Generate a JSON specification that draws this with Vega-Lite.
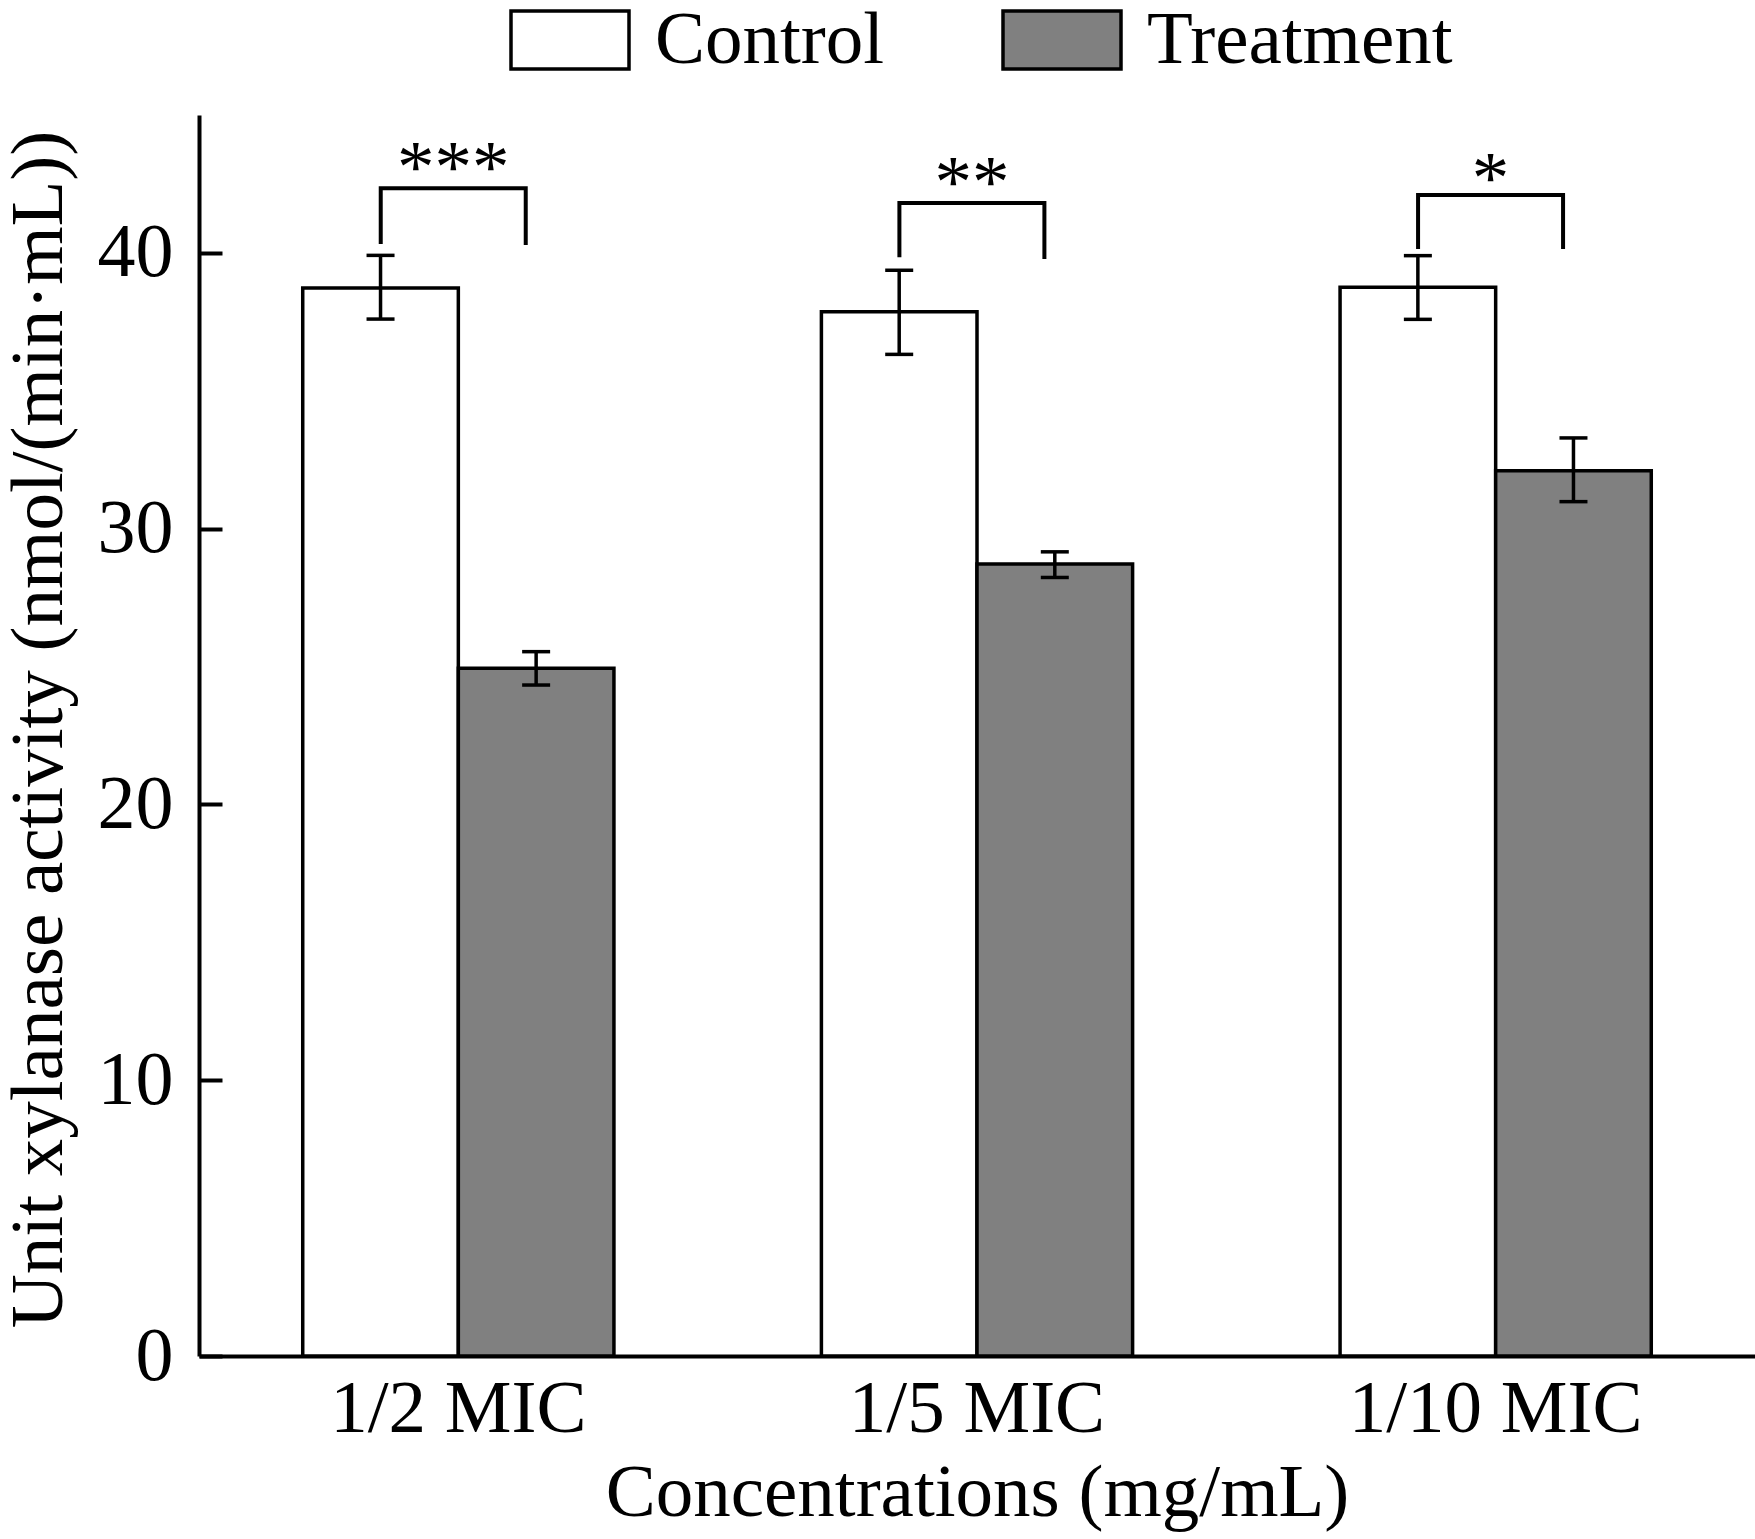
{
  "$schema": "https://vega.github.io/schema/vega-lite/v6.json",
  "autosize": "none",
  "padding": {"left": 199, "top": 115, "right": 0, "bottom": 183},
  "width": 1556,
  "height": 1241,
  "background": "white",
  "config": {
    "view": {"stroke": null},
    "font": "Liberation Serif",
    "axis": {"grid": false, "domainColor": "black", "tickColor": "black", "labelColor": "black", "titleColor": "black", "labelFont": "Liberation Serif", "titleFont": "Liberation Serif", "labelFontSize": 75, "titleFontSize": 75, "titleFontWeight": "normal", "labelLimit": 0, "titleLimit": 0}
  },
  "datasets": {
    "bars": [
      {"conc": "1/2 MIC", "group": "Control", "value": 38.73, "lo": 37.60, "hi": 39.91},
      {"conc": "1/2 MIC", "group": "Treatment", "value": 24.94, "lo": 24.33, "hi": 25.54},
      {"conc": "1/5 MIC", "group": "Control", "value": 37.87, "lo": 36.32, "hi": 39.37},
      {"conc": "1/5 MIC", "group": "Treatment", "value": 28.72, "lo": 28.23, "hi": 29.16},
      {"conc": "1/10 MIC", "group": "Control", "value": 38.75, "lo": 37.59, "hi": 39.90},
      {"conc": "1/10 MIC", "group": "Treatment", "value": 32.10, "lo": 30.98, "hi": 33.29}
    ],
    "brackets": [
      {"conc": "1/2 MIC", "pos": 78, "y": 40.32, "ord": 1},
      {"conc": "1/2 MIC", "pos": 78, "y": 42.34, "ord": 2},
      {"conc": "1/2 MIC", "pos": 223, "y": 42.34, "ord": 3},
      {"conc": "1/2 MIC", "pos": 223, "y": 40.29, "ord": 4},
      {"conc": "1/5 MIC", "pos": 78, "y": 39.84, "ord": 1},
      {"conc": "1/5 MIC", "pos": 78, "y": 41.81, "ord": 2},
      {"conc": "1/5 MIC", "pos": 223, "y": 41.81, "ord": 3},
      {"conc": "1/5 MIC", "pos": 223, "y": 39.78, "ord": 4},
      {"conc": "1/10 MIC", "pos": 78, "y": 40.14, "ord": 1},
      {"conc": "1/10 MIC", "pos": 78, "y": 42.10, "ord": 2},
      {"conc": "1/10 MIC", "pos": 223, "y": 42.10, "ord": 3},
      {"conc": "1/10 MIC", "pos": 223, "y": 40.14, "ord": 4}
    ],
    "stars": [
      {"conc": "1/2 MIC", "pos": 150.5, "y": 43.59, "label": "***"},
      {"conc": "1/5 MIC", "pos": 150.5, "y": 43.05, "label": "**"},
      {"conc": "1/10 MIC", "pos": 150.5, "y": 43.2, "label": "*"}
    ]
  },
  "encoding": {
    "x": {
      "field": "conc", "type": "nominal", "sort": ["1/2 MIC", "1/5 MIC", "1/10 MIC"],
      "scale": {"paddingInner": 0.4, "paddingOuter": 0.2},
      "axis": {"title": "Concentrations (mg/mL)", "labelAngle": 0, "ticks": false, "domainWidth": 4, "labelPadding": 16, "titlePadding": 10, "labelLimit": 0}
    }
  },
  "layer": [
    {
      "data": {"name": "bars"},
      "mark": {"type": "bar", "stroke": "black", "strokeWidth": 3.5, "opacity": 1},
      "encoding": {
        "xOffset": {"field": "group", "type": "nominal", "sort": ["Control", "Treatment"]},
        "y": {
          "field": "value", "type": "quantitative",
          "scale": {"domain": [0, 45], "nice": false},
          "axis": {"values": [0, 10, 20, 30, 40], "tickSize": -23, "tickWidth": 4, "domainWidth": 4, "labelPadding": 49, "labelFontSize": 76,
                   "title": "Unit xylanase activity (nmol/(min·mL))", "titleAngle": -90, "titleBaseline": "alphabetic", "titleAlign": "center", "titleX": -138, "titleY": 614}
        },
        "fill": {
          "field": "group", "type": "nominal",
          "scale": {"domain": ["Control", "Treatment"], "range": ["#ffffff", "#808080"]},
          "legend": {
            "title": null, "orient": "none", "direction": "horizontal", "legendX": 310, "legendY": -136,
            "padding": 0, "symbolType": "M-1,-0.49H1V0.49H-1Z", "symbolSize": 13924,
            "symbolStrokeColor": "black", "symbolStrokeWidth": 3.5, "symbolOpacity": 1,
            "labelFont": "Liberation Serif", "labelFontSize": 75, "labelColor": "black", "labelOffset": 24, "columnPadding": 111, "labelLimit": 0
          }
        }
      }
    },
    {
      "data": {"name": "bars"},
      "mark": {"type": "rule", "color": "black", "strokeWidth": 3.5},
      "encoding": {
        "xOffset": {"field": "group", "type": "nominal", "sort": ["Control", "Treatment"]},
        "y": {"field": "lo", "type": "quantitative"},
        "y2": {"field": "hi"}
      }
    },
    {
      "data": {"name": "bars"},
      "mark": {"type": "tick", "color": "black", "size": 28, "thickness": 3.5, "opacity": 1},
      "encoding": {
        "xOffset": {"field": "group", "type": "nominal", "sort": ["Control", "Treatment"]},
        "y": {"field": "lo", "type": "quantitative"}
      }
    },
    {
      "data": {"name": "bars"},
      "mark": {"type": "tick", "color": "black", "size": 28, "thickness": 3.5, "opacity": 1},
      "encoding": {
        "xOffset": {"field": "group", "type": "nominal", "sort": ["Control", "Treatment"]},
        "y": {"field": "hi", "type": "quantitative"}
      }
    },
    {
      "data": {"name": "brackets"},
      "mark": {"type": "line", "color": "black", "strokeWidth": 4, "strokeCap": "butt", "strokeJoin": "miter"},
      "encoding": {
        "xOffset": {"field": "pos", "type": "quantitative", "scale": {"domain": [0, 311], "range": [0, 311]}},
        "y": {"field": "y", "type": "quantitative"},
        "detail": {"field": "conc"},
        "order": {"field": "ord"}
      }
    },
    {
      "data": {"name": "stars"},
      "mark": {"type": "text", "color": "black", "font": "Liberation Serif", "fontSize": 75, "baseline": "middle", "align": "center", "dy": 15},
      "encoding": {
        "xOffset": {"field": "pos", "type": "quantitative", "scale": {"domain": [0, 311], "range": [0, 311]}},
        "y": {"field": "y", "type": "quantitative"},
        "text": {"field": "label"}
      }
    }
  ],
  "resolve": {"scale": {"xOffset": "independent"}}
}
